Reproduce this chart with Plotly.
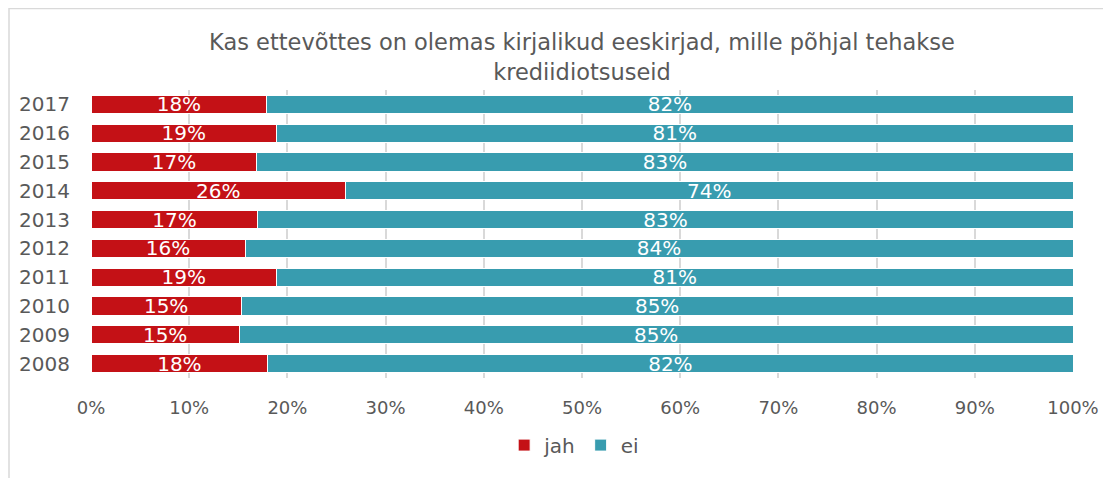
import plotly.graph_objects as go

# andmed
aastad = ["2008", "2009", "2010", "2011", "2012", "2013", "2014", "2015", "2016", "2017"]
jah = [18.0, 15.1, 15.3, 18.9, 15.7, 17.0, 25.9, 16.9, 18.9, 17.9]
ei = [100 - v for v in jah]
x_ticks = [0, 10, 20, 30, 40, 50, 60, 70, 80, 90, 100]
x_labels = [f"{t}%" for t in x_ticks]

font_name = "DejaVu Sans"
grey = "#595959"

fig = go.Figure()
fig.add_trace(go.Bar(
    y=aastad, x=jah, name="jah", orientation="h",
    marker=dict(color="#C41116", line=dict(color="white", width=1)),
    text=[f"{round(v)}%" for v in jah], textposition="inside",
    insidetextanchor="middle", textangle=0, constraintext="none",
    textfont=dict(color="white", size=20, family=font_name),
))
fig.add_trace(go.Bar(
    y=aastad, x=ei, name="ei", orientation="h",
    marker=dict(color="#389CAF", line=dict(color="white", width=1)),
    text=[f"{round(v)}%" for v in ei], textposition="inside",
    insidetextanchor="middle", textangle=0, constraintext="none",
    textfont=dict(color="white", size=20, family=font_name),
))

# piirjoon (ülal ja vasakul)
fig.add_shape(type="rect", xref="paper", yref="paper",
              x0=-0.0835, x1=1.06, y0=-0.45, y1=1.283,
              line=dict(color="#d9d9d9", width=1.5), layer="below")

# lehe 8 px servaga arvestatud mõõdud
fig.update_layout(
    width=1103, height=470,
    barmode="stack", bargap=0.37,
    plot_bgcolor="white", paper_bgcolor="white",
    margin=dict(l=83, r=38, t=82, b=100, autoexpand=False),
    font=dict(family=font_name, color=grey),
    title=dict(
        text="Kas ettevõttes on olemas kirjalikud eeskirjad, mille põhjal tehakse<br>krediidiotsuseid",
        x=0.5, xref="paper", y=0.91, yanchor="middle",
        font=dict(size=22.5, color=grey, family=font_name),
    ),
    xaxis=dict(
        range=[0, 100], tickvals=x_ticks, ticktext=x_labels,
        showgrid=True, gridcolor="#d9d9d9", gridwidth=1.5, zeroline=False,
        tickfont=dict(size=18, color=grey), ticklabelstandoff=17,
        automargin=False,
    ),
    yaxis=dict(
        categoryorder="array", categoryarray=aastad,
        tickfont=dict(size=20, color=grey), ticklabelstandoff=20,
        showgrid=False, automargin=False,
    ),
    legend=dict(
        orientation="h", x=0.492, xanchor="center", y=-0.233, yanchor="middle",
        font=dict(size=20, color=grey), itemwidth=30, traceorder="normal",
    ),
)

fig.write_html("out.html")
